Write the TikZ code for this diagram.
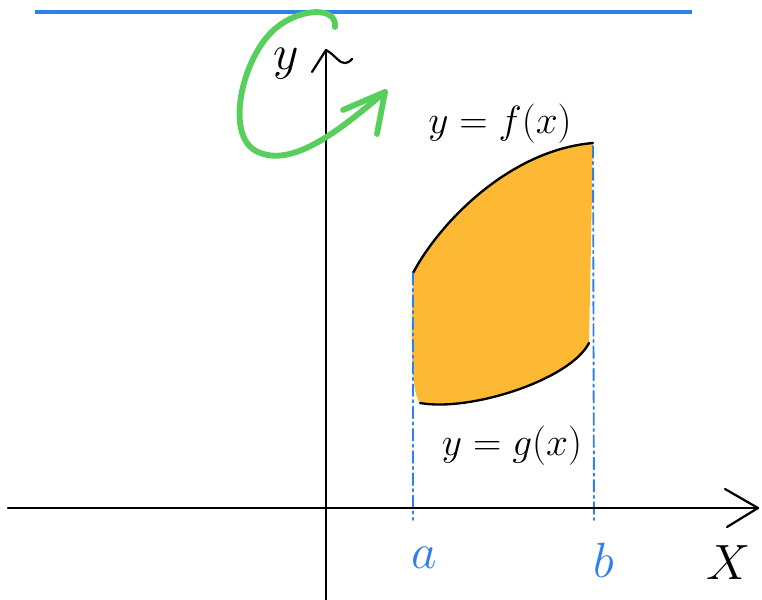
\documentclass[tikz,border=0pt]{standalone}
\usepackage{tikz}
\usetikzlibrary{calc}
\definecolor{penblue}{HTML}{2F80E8}
\definecolor{pengreen}{HTML}{58CE5C}
\definecolor{areaorange}{HTML}{FDB834}
\tikzset{
  axisline/.style={line width=1.9pt, black, line cap=round, line join=round},
  graphline/.style={line width=2pt, black, line cap=round},
  boundline/.style={penblue, line width=1.6pt, line cap=round,
    dash pattern=on 10pt off 3.5pt on 2pt off 3.5pt},
  eqlabel/.style={font=\Huge, scale=1.35},
  letter/.style={font=\Huge, scale=1.7},
}

\begin{document}
\begin{tikzpicture}[x=0.03cm,y=-0.03cm]
  \useasboundingbox (0,0) rectangle (762,600);
  % points of the picture
  \coordinate (O) at (326,508);
  \coordinate (Xl) at (8,508);
  \coordinate (Xr) at (758,508);
  \coordinate (Yb) at (326,600);
  \coordinate (Yt) at (326,50);
  \coordinate (Fa) at (413,273);
  \coordinate (Fb) at (593,143);
  \coordinate (Ga) at (420,403);
  \coordinate (Gb) at (589,343);
  \coordinate (Aa) at (413,520);
  \coordinate (Ab) at (594,520);
  % axis of rotation
  \draw[penblue, line width=4pt] (35,12) -- (692,12);
  % region between the graphs
  \fill[areaorange] (Fa) .. controls (440,222) and (510,150) .. (Fb)
    -- (Gb) .. controls (570,380) and (470,412) .. (Ga)
    .. controls (410,392) and (411,330) .. cycle;
  \draw[graphline] (Fa) .. controls (440,222) and (510,150) .. (Fb);
  \draw[graphline] (Ga) .. controls (470,412) and (570,380) .. (Gb);
  \draw[boundline] (Fa) -- (Aa);
  \draw[boundline] (Fb |- 0,146) -- (Ab);
  % axes
  \draw[axisline] (Xl) -- (Xr);
  \draw[axisline] (725,489) -- (Xr) -- (727,527);
  \draw[axisline] (Yb) -- (Yt);
  \draw[axisline] (312,72) -- (Yt) .. controls (335,55) and (340,64) .. (345,63)
    .. controls (349,62) .. (352,59);
  % rotation arrow
  \draw[pengreen, line width=5pt, line cap=round, line join=round]
    (335,27) .. controls (337,6) and (300,8) .. (276,28)
    .. controls (243,55) and (224,134) .. (256,151)
    .. controls (292,170) and (342,128) .. (385,92);
  \draw[pengreen, line width=5pt, line cap=round, line join=round]
    (343,110) -- (385,92) -- (377,134);
  % labels
  \node[letter] (ylab) at (286,64) {$y$};
  \node[eqlabel] (flab) at (500,124) {$y=f(x)$};
  \node[eqlabel] (glab) at (512,446) {$y=g(x)$};
  \node[letter, penblue] (alab) at (424,558) {$a$};
  \node[letter, penblue] (blab) at (604,560) {$b$};
  \node[letter] (xlab) at (729,563) {$X$};
\end{tikzpicture}
\end{document}
